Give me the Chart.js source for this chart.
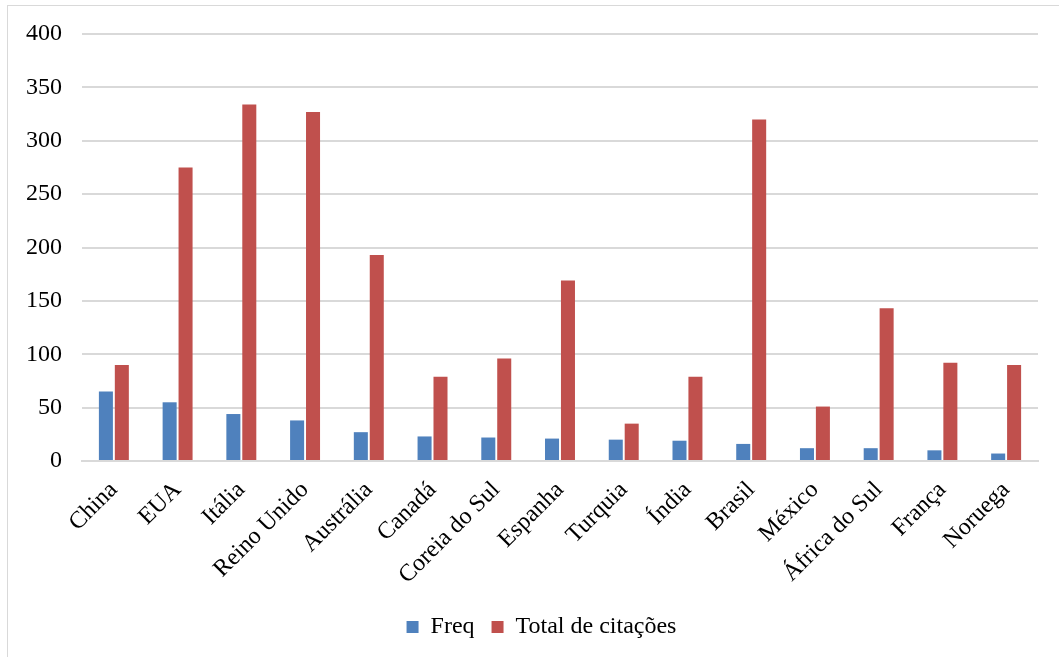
<!DOCTYPE html>
<html lang="pt">
<head>
<meta charset="utf-8">
<title>Freq e Total de citações por país</title>
<script src="https://cdn.jsdelivr.net/npm/chart.js@4/dist/chart.umd.min.js"></script>
<style>
  html, body { margin: 0; padding: 0; background: #ffffff; overflow: hidden; }
  body { width: 1059px; height: 657px; position: relative; }
  #frame {
    position: absolute; left: 7px; top: 5px; width: 1080px; height: 680px;
    border-left: 1px solid #d9d9d9; border-top: 1px solid #d9d9d9;
  }
  #wrap { position: absolute; left: 8px; top: 6px; width: 1067px; height: 651px; }
</style>
</head>
<body>
<div id="frame"></div>
<div id="wrap"><canvas id="chart" width="1067" height="651"></canvas></div>
<script>
const countries = ['China', 'EUA', 'Itália', 'Reino Unido', 'Austrália', 'Canadá', 'Coreia do Sul',
  'Espanha', 'Turquia', 'Índia', 'Brasil', 'México', 'África do Sul', 'França', 'Noruega'];
const freq = [65, 55, 44, 38, 27, 23, 22, 21, 20, 19, 16, 12, 12, 10, 7];
const totalCitacoes = [90, 275, 334, 327, 193, 79, 96, 169, 35, 79, 320, 51, 143, 92, 90];
const yTicks = [0, 50, 100, 150, 200, 250, 300, 350, 400];

const serif = 'Liberation Serif, "Times New Roman", serif';

new Chart(document.getElementById('chart'), {
  type: 'bar',
  data: {
    labels: countries,
    datasets: [
      { label: 'Freq', data: freq, backgroundColor: '#4f81bd',
        categoryPercentage: 0.5, barPercentage: 0.88 },
      { label: 'Total de citações', data: totalCitacoes, backgroundColor: '#c0504d',
        categoryPercentage: 0.5, barPercentage: 0.88 }
    ]
  },
  options: {
    responsive: false,
    animation: false,
    layout: { padding: { top: 28, right: 0, bottom: 8, left: 0 } },
    plugins: {
      tooltip: { enabled: false },
      legend: {
        position: 'bottom',
        labels: {
          font: { family: serif, size: 24 },
          color: '#000000',
          boxWidth: 12, boxHeight: 12,
          padding: 17
        }
      }
    },
    scales: {
      x: {
        grid: { display: false, drawTicks: false },
        border: { display: true, color: '#d9d9d9', width: 2 },
        ticks: {
          font: { family: serif, size: 24 },
          color: '#000000',
          maxRotation: 45, minRotation: 45,
          autoSkip: false,
          padding: 15
        },
        afterFit: (scale) => { scale.height = 137; scale.paddingRight = 37; }
      },
      y: {
        min: 0, max: 400,
        afterBuildTicks: (scale) => { scale.ticks = yTicks.map(v => ({ value: v })); },
        grid: { color: '#d9d9d9', lineWidth: 2, drawTicks: false },
        border: { display: false },
        ticks: {
          font: { family: serif, size: 24 },
          color: '#000000',
          padding: 20
        },
        afterFit: (scale) => { scale.width = 74; scale.paddingTop = 0; scale.paddingBottom = 0; }
      }
    }
  }
});
</script>
</body>
</html>
